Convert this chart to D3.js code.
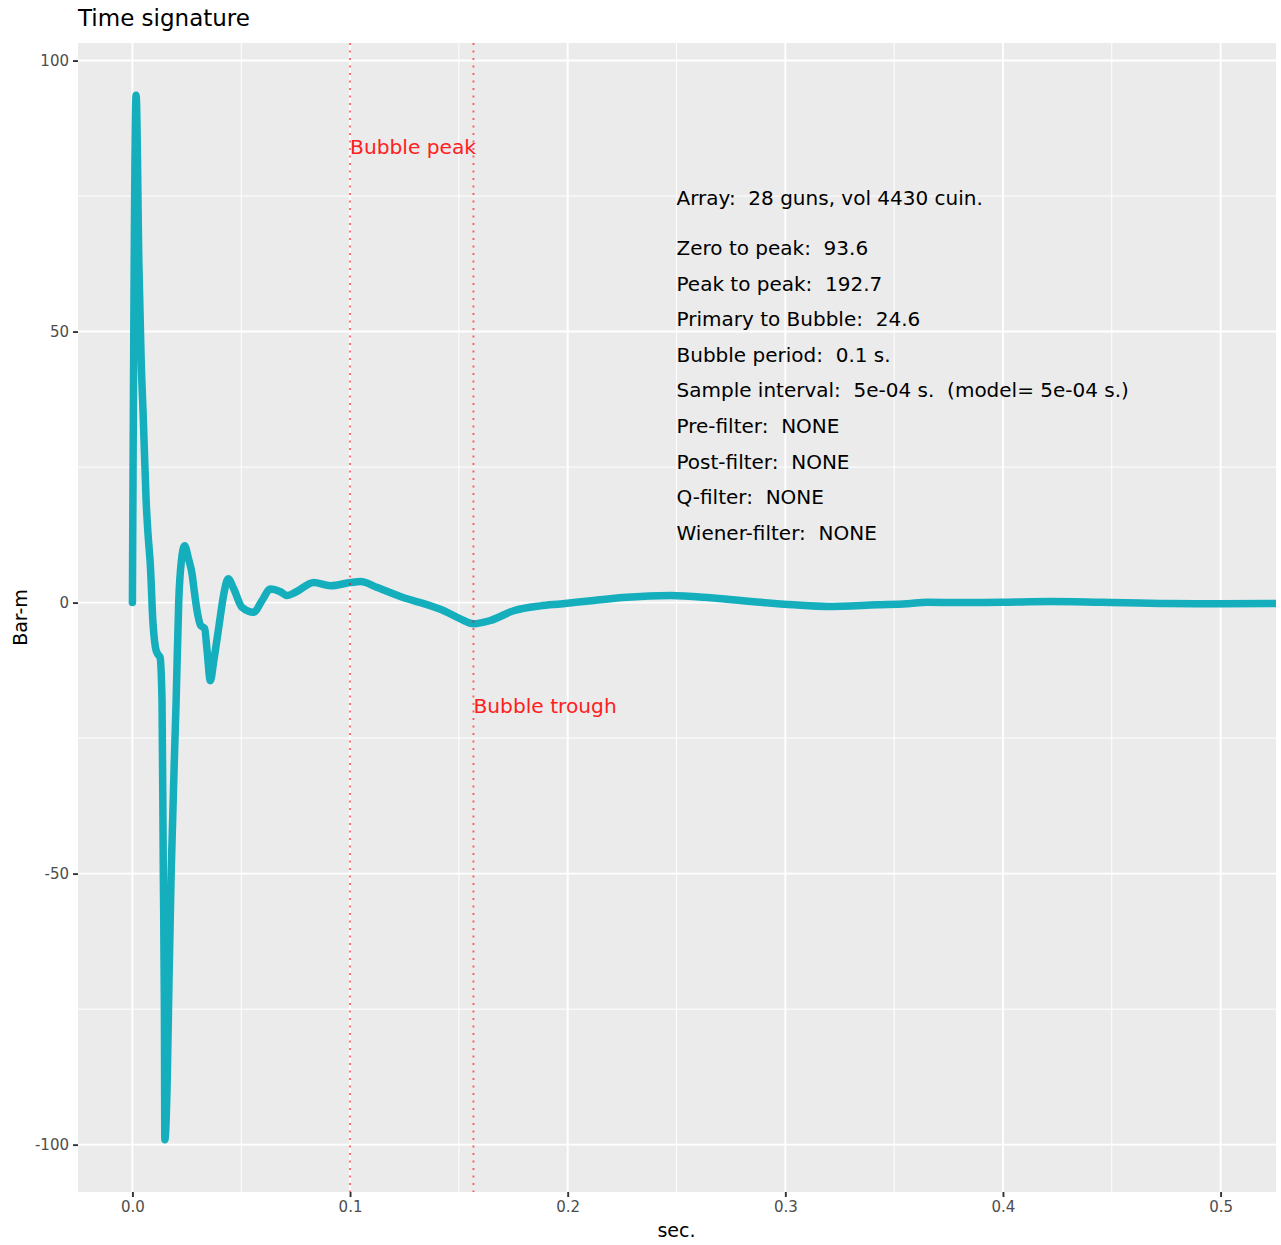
<!DOCTYPE html>
<html><head><meta charset="utf-8">
<script src="https://cdn.jsdelivr.net/npm/d3@7/dist/d3.min.js"></script>
<style>body{margin:0;background:#fff;} text{font-family:"DejaVu Sans",sans-serif;}</style>
</head><body>
<script>
// ---- data ----
const times = [0, 0.0017, 0.0030, 0.0040, 0.0050, 0.0063, 0.0072, 0.0083, 0.0093, 0.0106, 0.0115, 0.0127, 0.0136, 0.0142, 0.0147, 0.0149,
  0.0160, 0.0168, 0.0178, 0.0201, 0.0213, 0.0225, 0.0240, 0.0257, 0.0274, 0.0284, 0.0297, 0.0313, 0.0332, 0.0343, 0.0358, 0.0374, 0.0397, 0.0420, 0.0440,
  0.0466, 0.0504, 0.0557, 0.0596, 0.0634, 0.0680, 0.0711, 0.0749, 0.0833, 0.0910, 0.1002, 0.1048, 0.1125, 0.1262, 0.1339, 0.1431, 0.1507, 0.1567,
  0.1645, 0.1752, 0.1875, 0.1967, 0.2120, 0.2273, 0.2472, 0.2656, 0.2886, 0.3039, 0.3192, 0.3422, 0.3560, 0.3652, 0.3800, 0.3990, 0.4219, 0.4449,
  0.4755, 0.5000, 0.5260, 0.5500];
const values = [0, 93.6, 62, 45, 34, 18.8, 12.5, 6.5, -2.7, -8.3, -9.4, -10.1, -18, -50, -75, -99.1,
  -88, -70, -50, -18, 0.4, 7.7, 10.5, 8.2, 5.3, 2.2, -1.5, -4.2, -4.8, -8.8, -14.4, -10.7, -4.5, 1.6, 4.4,
  2.5, -0.9, -1.8, 0.4, 2.5, 2.0, 1.3, 1.9, 3.7, 3.1, 3.7, 3.9, 2.8, 0.7, -0.2, -1.5, -3.0, -3.9,
  -3.3, -1.5, -0.6, -0.25, 0.4, 1.0, 1.3, 0.9, 0.06, -0.4, -0.7, -0.4, -0.2, 0.06, 0.0, 0.06, 0.2, 0.06,
  -0.18, -0.2, -0.18, -0.15];
const xTicks = [0.0, 0.1, 0.2, 0.3, 0.4, 0.5];
const xMinor = [0.05, 0.15, 0.25, 0.35, 0.45];
const yTicks = [-100, -50, 0, 50, 100];
const yMinor = [-75, -25, 25, 75];
const vlineX = [0.1, 0.1567];
const vlineLabels = ["Bubble peak", "Bubble trough"];
const vlineLabelY = [84, -19];
const infoLines = ["Array:  28 guns, vol 4430 cuin.", "Zero to peak:  93.6", "Peak to peak:  192.7", "Primary to Bubble:  24.6",
  "Bubble period:  0.1 s.", "Sample interval:  5e-04 s.  (model= 5e-04 s.)", "Pre-filter:  NONE", "Post-filter:  NONE", "Q-filter:  NONE", "Wiener-filter:  NONE"];
const infoY = [74.6, 65.4, 58.8, 52.3, 45.7, 39.3, 32.6, 26.0, 19.5, 12.9];
const infoX = 0.25;
const xLimits = [0, 0.5];

// ---- layout ----
const W = 1281, H = 1245;
const P = {left: 78, right: 1275, top: 43, bottom: 1192};
const svg = d3.select("body").append("svg").attr("width", W).attr("height", H);

const xs = d3.scaleLinear().domain([xLimits[0] - 0.05*(xLimits[1]-xLimits[0]), xLimits[1] + 0.05*(xLimits[1]-xLimits[0])]).range([P.left, P.right]);
const [vmin, vmax] = d3.extent(values);
const vr = vmax - vmin;
const ys = d3.scaleLinear().domain([vmin - 0.05*vr, vmax + 0.05*vr]).range([P.bottom, P.top]);

svg.append("rect").attr("x", P.left).attr("y", P.top).attr("width", 1276-P.left).attr("height", P.bottom-P.top).attr("fill", "#EBEBEB");

const grid = svg.append("g");
xMinor.forEach(v => grid.append("line").attr("x1", xs(v)).attr("x2", xs(v)).attr("y1", P.top).attr("y2", P.bottom).attr("stroke", "#fff").attr("stroke-width", 1));
yMinor.forEach(v => grid.append("line").attr("y1", ys(v)).attr("y2", ys(v)).attr("x1", P.left).attr("x2", 1276).attr("stroke", "#fff").attr("stroke-width", 1));
xTicks.forEach(v => grid.append("line").attr("x1", xs(v)).attr("x2", xs(v)).attr("y1", P.top).attr("y2", P.bottom).attr("stroke", "#fff").attr("stroke-width", 1.9));
yTicks.forEach(v => grid.append("line").attr("y1", ys(v)).attr("y2", ys(v)).attr("x1", P.left).attr("x2", 1276).attr("stroke", "#fff").attr("stroke-width", 1.9));

svg.append("clipPath").attr("id", "clip").append("rect").attr("x", P.left).attr("y", P.top).attr("width", 1276-P.left).attr("height", P.bottom-P.top);

const data = times.map((t, i) => ({t, v: values[i]}));
const line = d3.line().x(d => xs(d.t)).y(d => ys(d.v)).curve(d3.curveMonotoneX);
svg.append("path").datum(data).attr("clip-path", "url(#clip)").attr("d", line)
  .attr("fill", "none").attr("stroke", "#14AEBD").attr("stroke-width", 7.5)
  .attr("stroke-linejoin", "round").attr("stroke-linecap", "round");

vlineX.forEach((v, i) => {
  svg.append("line").attr("x1", xs(v)).attr("x2", xs(v)).attr("y1", P.top).attr("y2", P.bottom)
    .attr("stroke", "#FF0000").attr("stroke-opacity", 0.6).attr("stroke-width", 1.9).attr("stroke-dasharray", "2,5.5");
  svg.append("text").attr("x", xs(v)).attr("y", ys(vlineLabelY[i]) + 7).attr("font-size", 20.2).attr("fill", "#FF2020").text(vlineLabels[i]);
});

infoLines.forEach((s, i) => {
  svg.append("text").attr("x", xs(infoX)).attr("y", ys(infoY[i]) + 7).attr("font-size", 20).attr("fill", "#000")
    .style("white-space", "pre").text(s);
});

// axes
const xAxis = d3.axisBottom(xs).tickValues(xTicks).tickFormat(d3.format(".1f")).tickSize(5).tickPadding(4);
const gx = svg.append("g").attr("transform", `translate(0,${P.bottom})`).call(xAxis);
gx.select(".domain").remove();
gx.selectAll("line").attr("stroke", "#333").attr("stroke-width", 1.9);
gx.selectAll("text").attr("fill", "#4D4D4D").attr("font-size", 15).attr("font-family", "DejaVu Sans");

const yAxis = d3.axisLeft(ys).tickValues(yTicks).tickFormat(d => String(d)).tickSize(5).tickPadding(4);
const gy = svg.append("g").attr("transform", `translate(${P.left},0)`).call(yAxis);
gy.select(".domain").remove();
gy.selectAll("line").attr("stroke", "#333").attr("stroke-width", 1.9);
gy.selectAll("text").attr("fill", "#4D4D4D").attr("font-size", 15).attr("font-family", "DejaVu Sans");

svg.append("text").attr("x", (P.left+P.right)/2).attr("y", 1237).attr("text-anchor", "middle").attr("font-size", 19).text("sec.");
svg.append("text").attr("transform", `translate(27,${(P.top+P.bottom)/2}) rotate(-90)`).attr("text-anchor", "middle").attr("font-size", 19).text("Bar-m");
svg.append("text").attr("x", P.left).attr("y", 26).attr("font-size", 23).text("Time signature");
</script>
</body></html>
